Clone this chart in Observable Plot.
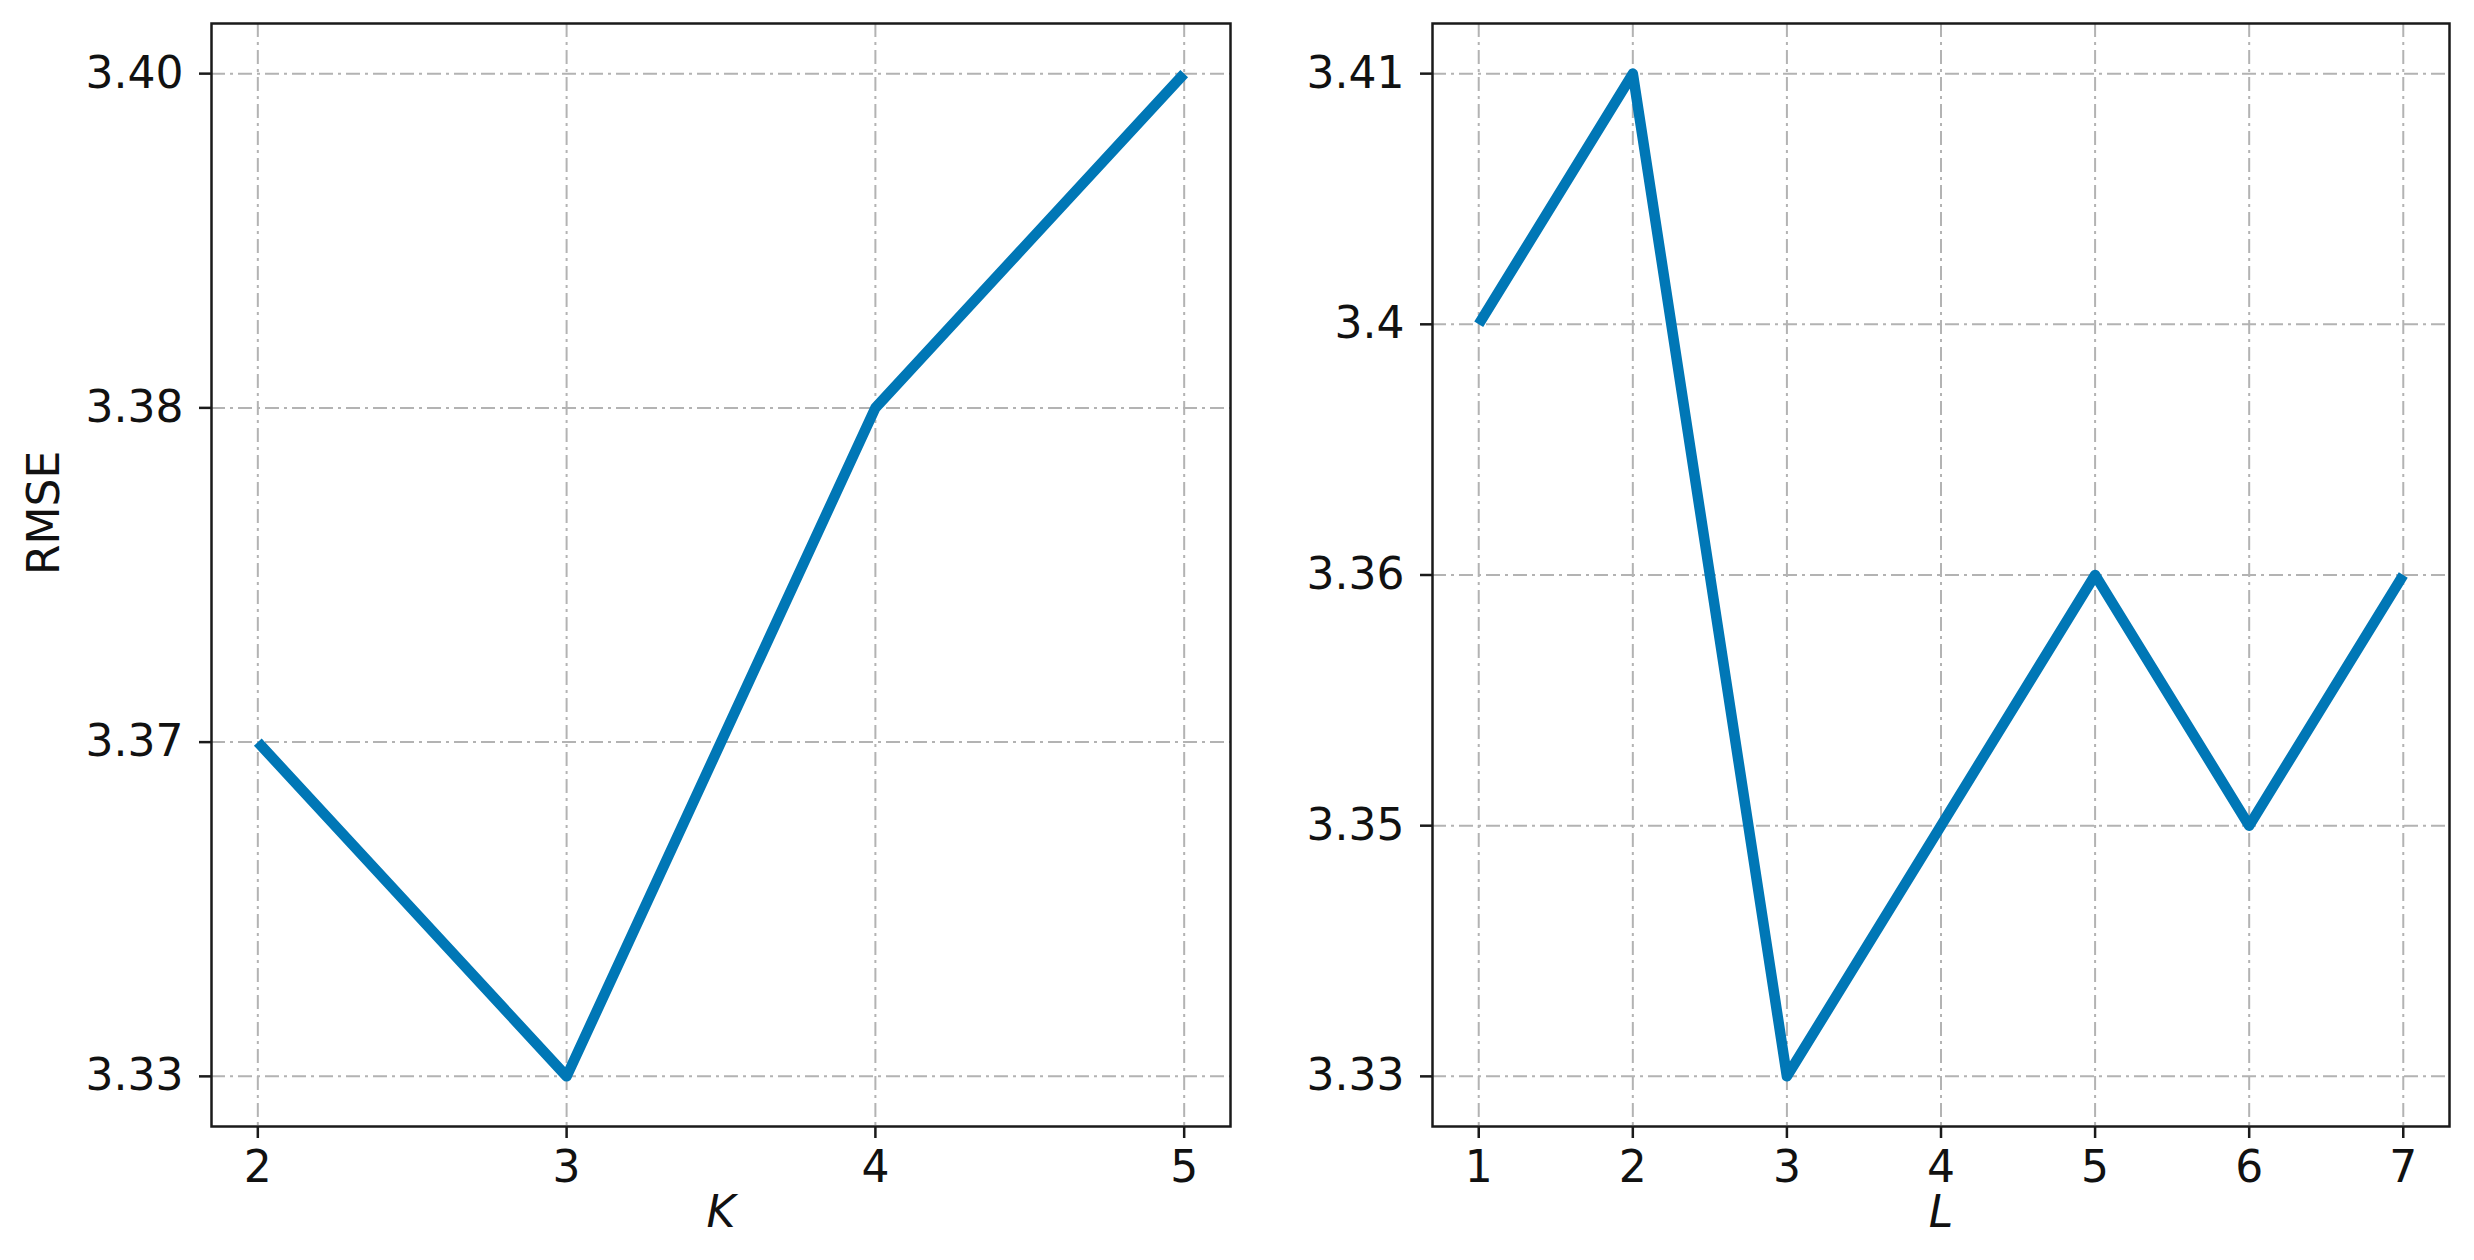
<!DOCTYPE html>
<html>
<head>
<meta charset="utf-8">
<script src="https://cdn.jsdelivr.net/npm/d3@7"></script>
<script src="https://cdn.jsdelivr.net/npm/@observablehq/plot@0.6"></script>
<style>
  html, body { margin: 0; padding: 0; background: #fff; }
  #wrap { position: relative; width: 2474px; height: 1260px; overflow: hidden; background: #fff; }
  #wrap svg { position: absolute; top: 0; }
</style>
</head>
<body>
<div id="wrap"></div>
<script>
// Left panel: RMSE vs K
const kValues = [2, 3, 4, 5];
const rmseByK = [3.37, 3.33, 3.38, 3.40];
const kTicks = [2, 3, 4, 5];
const kYTicks = [3.40, 3.38, 3.37, 3.33]; // top to bottom (categorical axis)

// Right panel: RMSE vs L
const lValues = [1, 2, 3, 4, 5, 6, 7];
const rmseByL = [3.40, 3.41, 3.33, 3.35, 3.36, 3.35, 3.36];
const lTicks = [1, 2, 3, 4, 5, 6, 7];
const lYTicks = [3.41, 3.4, 3.36, 3.35, 3.33]; // top to bottom (categorical axis)

const LINE_COLOR = "#0077b6";
const GRID = {stroke: "#b3b3b3", strokeOpacity: 1, strokeWidth: 2, strokeDasharray: "14,5,3,5"};
const FONT = "DejaVu Sans, Liberation Sans, sans-serif";
const FS = 44;

function panel({xs, ys, xTicks, yDomain, yPad, xDomain, yFormat, xLabel, yLabel, width, marginLeft, marginRight}) {
  const data = xs.map((x, i) => ({x, y: ys[i]}));
  const marks = [
    Plot.gridX(xTicks, GRID),
    Plot.gridY(yDomain, GRID),
    Plot.line(data, {x: "x", y: "y", stroke: LINE_COLOR, strokeWidth: 10.5, strokeLinejoin: "round", strokeLinecap: "butt"}),
    Plot.frame({stroke: "#1a1a1a", strokeWidth: 2.5}),
    Plot.axisX(xTicks, {tickSize: 12, tickPadding: 12, fontSize: FS, strokeWidth: 2.5, stroke: "#1a1a1a", fill: "#111", tickFormat: d => String(d), label: null}),
    Plot.axisY(yDomain, {tickSize: 12, tickPadding: 16, fontSize: FS, strokeWidth: 2.5, stroke: "#1a1a1a", fill: "#111", tickFormat: yFormat, label: null}),
    Plot.text([xLabel], {text: d => d, frameAnchor: "bottom", dy: 100, fontSize: FS, fontStyle: "italic", fill: "#111"})
  ];
  if (yLabel) {
    marks.push(Plot.text([yLabel], {text: d => d, frameAnchor: "left", dx: -167, rotate: -90, fontSize: FS, fill: "#111"}));
  }
  return Plot.plot({
    width, height: 1260,
    marginLeft, marginRight, marginTop: 23, marginBottom: 134,
    style: {fontFamily: FONT, fontSize: FS + "px", background: "transparent", overflow: "visible"},
    x: {type: "linear", domain: xDomain, label: null},
    y: {type: "point", domain: yDomain, padding: yPad, round: false, label: null},
    marks
  });
}

const left = panel({
  xs: kValues, ys: rmseByK, xTicks: kTicks, yDomain: kYTicks, yPad: 0.15,
  xDomain: [1.85, 5.15], yFormat: d => d.toFixed(2), xLabel: "K", yLabel: "RMSE",
  width: 1290, marginLeft: 211, marginRight: 60
});
left.style.left = "0px";

const right = panel({
  xs: lValues, ys: rmseByL, xTicks: lTicks, yDomain: lYTicks, yPad: 0.2,
  xDomain: [0.7, 7.3], yFormat: d => String(d), xLabel: "L", yLabel: null,
  width: 1184, marginLeft: 142, marginRight: 25
});
right.style.left = "1290px";

const wrap = document.getElementById("wrap");
wrap.appendChild(left);
wrap.appendChild(right);
</script>
</body>
</html>
